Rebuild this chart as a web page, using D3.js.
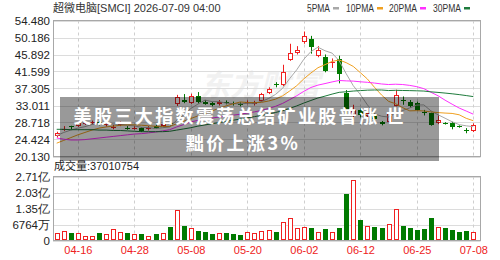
<!DOCTYPE html>
<html><head><meta charset="utf-8">
<script src="https://cdn.jsdelivr.net/npm/d3@7/dist/d3.min.js"></script>
<style>
html,body{margin:0;padding:0;background:#fff;}
svg{display:block;font-family:"Liberation Sans","Noto Sans CJK SC",sans-serif;}
</style></head>
<body><svg id="c" width="500" height="260"></svg>
<script>
const dates = ["04-13","04-14","04-15","04-16","04-17","04-20","04-21","04-22","04-23","04-24","04-27","04-28","04-29","04-30","05-01","05-04","05-05","05-06","05-07","05-08","05-11","05-12","05-13","05-14","05-15","05-18","05-19","05-20","05-21","05-22","05-26","05-27","05-28","05-29","06-01","06-02","06-03","06-04","06-05","06-08","06-09","06-10","06-11","06-12","06-15","06-16","06-17","06-18","06-22","06-23","06-24","06-25","06-26","06-29","06-30","07-01","07-02","07-06","07-07","07-08"];
const openP  = [25.2,27.1,27.8,27.9,28.4,28.5,28.8,28.0,27.5,28.0,27.4,27.3,27.3,27.2,27.9,27.9,28.6,33.4,34.3,33.7,35.4,34.0,33.6,33.3,34.0,33.7,33.5,33.6,33.3,34.2,36.1,38.4,38.1,44.6,46.2,49.0,49.8,45.5,45.2,43.8,44.8,36.1,30.5,31.8,30.3,30.6,28.9,28.9,33.0,34.3,33.9,33.6,31.4,31.0,28.5,28.6,28.6,27.8,26.8,26.5];
const highP  = [26.4,27.8,27.9,29.0,29.0,29.2,29.1,28.7,28.1,29.0,27.8,27.9,27.5,27.8,28.2,28.6,28.9,35.7,35.9,36.0,36.4,34.4,33.9,34.4,34.3,34.0,33.8,34.3,34.2,36.2,37.6,38.9,43.3,48.6,48.0,51.7,50.6,48.0,45.9,44.9,45.6,36.9,33.2,32.3,31.5,31.0,29.1,31.4,37.0,35.3,34.4,34.0,31.9,31.2,30.5,28.8,28.9,28.0,27.3,28.5];
const lowP   = [24.9,26.6,27.0,27.6,28.1,28.3,28.0,27.7,27.0,27.8,26.9,26.9,26.3,26.7,27.2,27.6,28.0,32.9,33.6,33.4,33.5,33.2,32.8,33.0,33.3,33.0,32.8,33.3,33.0,34.0,35.9,37.6,37.9,44.3,45.9,48.6,46.1,45.2,41.4,42.5,38.6,30.8,29.5,30.0,29.8,29.3,28.0,28.6,32.8,33.2,32.5,31.7,30.5,27.9,28.3,28.2,27.0,27.4,26.0,26.3];
const closeP = [26.1,27.2,27.7,28.7,28.6,28.9,28.3,28.3,27.6,28.6,27.3,27.4,26.6,27.3,27.4,28.3,28.4,35.1,34.0,35.5,33.8,33.5,33.1,34.0,33.6,33.3,33.1,33.8,33.9,35.9,37.2,38.3,41.5,46.2,47.0,50.5,47.9,47.1,41.7,44.0,40.9,31.5,32.0,30.5,31.0,29.6,28.4,31.0,35.6,34.2,32.8,32.0,31.2,28.1,29.3,28.4,27.5,27.6,26.6,28.2];
// volume in millions of shares
const volumeM = [30.7,41.8,30.7,30.7,20.9,20.9,30.7,26.5,48.8,37.7,30.7,26.5,26.5,20.9,26.5,30.7,58.6,128.3,62.8,51.6,41.8,37.7,26.5,33.5,30.7,26.5,22.3,37.7,30.7,41.8,44.6,37.7,76.7,96.2,51.6,55.8,53.0,34.9,48.8,34.9,53.0,195.2,253.8,86.5,61.4,58.6,54.4,69.7,132.5,62.8,54.4,46.0,48.8,93.4,55.8,54.4,46.0,34.9,41.8,37.01];
const ma5  = [25.4,26.2,26.8,27.3,27.66,28.22,28.44,28.56,28.34,28.34,28.02,27.84,27.5,27.44,27.2,27.4,27.6,29.3,30.64,32.26,33.36,34.38,33.98,33.98,33.6,33.5,33.42,33.56,33.54,34.0,34.78,35.82,37.36,39.82,42.04,44.7,46.62,47.74,46.84,46.24,44.32,41.04,38.02,35.78,33.18,30.92,30.3,30.1,31.12,31.76,32.4,33.12,33.16,31.66,30.68,29.8,28.9,28.18,27.88,27.66];
const ma10 = [23.5,24.2,24.9,25.6,26.2,26.8,27.3,27.6,27.8,28.0,28.12,28.14,28.03,27.89,27.77,27.71,27.72,28.4,29.04,29.73,30.38,30.99,31.64,32.31,32.93,33.43,33.9,33.77,33.76,33.8,34.14,34.62,35.46,36.68,38.02,39.74,41.22,42.55,43.33,44.14,44.51,43.83,42.88,41.31,39.71,37.62,35.67,34.06,33.45,32.47,31.66,31.71,31.63,31.39,31.22,31.1,31.01,30.67,29.77,29.17];
const ma20 = [24.8,24.5,24.3,24.3,24.4,24.6,24.8,25.0,25.2,25.4,25.6,25.8,25.9,26.1,26.3,26.6,26.9,27.6,28.2,28.87,29.25,29.57,29.84,30.1,30.35,30.57,30.81,31.09,31.4,31.77,32.26,32.81,33.55,34.5,35.48,36.59,37.56,38.16,38.55,38.97,39.33,39.23,39.17,39.0,38.87,38.68,38.45,38.31,38.39,38.31,38.09,37.77,37.26,36.35,35.47,34.36,33.34,32.37,31.61,30.82];
const ma30 = [27.0,27.0,26.9,26.9,26.9,26.9,26.8,26.8,26.7,26.7,26.6,26.5,26.4,26.4,26.4,26.4,26.5,26.8,27.1,27.4,27.8,28.1,28.4,28.7,29.0,29.3,29.6,29.9,30.2,30.51,30.88,31.25,31.71,32.29,32.91,33.63,34.28,34.91,35.38,35.89,36.34,36.48,36.66,36.77,36.89,36.93,36.93,36.79,36.85,36.8,36.77,36.72,36.66,36.46,36.32,36.15,35.97,35.76,35.52,35.26];
const priceTicks = [54.480,50.186,45.892,41.599,37.305,33.011,28.718,24.424,20.130];
const volTicks = [270560000,202920000,135280000,67640000,0];
const volTickLabels = ["2.71亿","2.03亿","1.35亿","6764万","0"];
const dateTicks = ["04-16","04-28","05-08","05-20","06-02","06-12","06-25","07-08"];
const maNames = ["5PMA","10PMA","20PMA","30PMA"];
const titleText = "超微电脑[SMCI] 2026-07-09 04:00";
const volText = "成交量:37010754";
const headline1 = "美股三大指数震荡总结矿业股普涨 世";
const headline2 = "黜价上涨3%";

const RED = "#f02020", GREEN = "#007a00";
const maColors = ["#a8a8a8","#f0a020","#ff30ff","#1e7b3c"];
const svg = d3.select("#c");
const L = 53, R = 480.5;
const mainTop = 20.5, mainBot = 156.5, volTop = 176.5, volBot = 240.5;

const x = d3.scalePoint().domain(dates).range([56.7, 473.3]);
const y = d3.scaleLinear().domain([20.130, 54.480]).range([mainBot, mainTop]);
const yv = d3.scaleLinear().domain([0, 270560000]).range([volBot, volTop]);

const data = dates.map((d,i)=>({d, o:openP[i], h:highP[i], l:lowP[i], c:closeP[i], v:volumeM[i]*1e6,
  up: closeP[i] > openP[i] || (closeP[i]===openP[i] && (i===0 || closeP[i] >= closeP[i-1]))}));

// title
svg.append("text").attr("x",53).attr("y",12).attr("font-size",11).attr("fill","#333").text(titleText);
// legend
const legendX = [307,346,389,433];
const legendW = [23,28,28,28];
maNames.forEach((n,k)=>{
  svg.append("text").attr("x",legendX[k]).attr("y",12).attr("font-size",10).attr("fill","#333")
    .attr("textLength",legendW[k]).attr("lengthAdjust","spacingAndGlyphs").text(n);
  svg.append("rect").attr("x",legendX[k]+legendW[k]+3).attr("y",7).attr("width",6).attr("height",2.5).attr("fill",maColors[k]);
});

// watermark
svg.append("text").attr("x",200).attr("y",96).attr("font-size",30).attr("font-weight","bold")
  .attr("font-style","italic").attr("fill","#000").attr("opacity",0.05).text("东方财富");

// horizontal grids
const g = svg.append("g");
g.selectAll(".hg").data(priceTicks).join("line")
  .attr("x1",L).attr("x2",R).attr("y1",d=>Math.round(y(d))+0.5).attr("y2",d=>Math.round(y(d))+0.5)
  .attr("stroke","#dcdcdc");
g.selectAll(".hv").data(volTicks).join("line").attr("class","hv")
  .attr("x1",L).attr("x2",R).attr("y1",d=>Math.round(yv(d))+0.5).attr("y2",d=>Math.round(yv(d))+0.5)
  .attr("stroke","#dcdcdc");
// vertical dashed
dateTicks.forEach(dt=>{
  const xx = Math.round(x(dt))+0.5;
  [[mainTop,mainBot],[volTop,volBot]].forEach(([a,b])=>{
    g.append("line").attr("x1",xx).attr("x2",xx).attr("y1",a).attr("y2",b)
     .attr("stroke","#cfcfcf").attr("stroke-dasharray","3,3");
  });
});
// frames
svg.append("rect").attr("x",L+0.5).attr("y",mainTop).attr("width",R-L-0.5).attr("height",mainBot-mainTop)
  .attr("fill","none").attr("stroke","#a8a8a8");
svg.append("rect").attr("x",L+0.5).attr("y",volTop).attr("width",R-L-0.5).attr("height",volBot-volTop)
  .attr("fill","none").attr("stroke","#a8a8a8");

// y axis labels
const yAxis = d3.axisLeft(y).tickValues(priceTicks).tickFormat(d=>d.toFixed(3)).tickSize(0).tickPadding(3);
const ya = svg.append("g").attr("transform",`translate(${L},0)`).call(yAxis);
ya.select(".domain").remove();
ya.selectAll("text").attr("font-size",11.5).attr("fill","#222").attr("font-family",'"Liberation Sans",sans-serif');
const vAxis = d3.axisLeft(yv).tickValues(volTicks).tickFormat((d,i)=>volTickLabels[i]).tickSize(0).tickPadding(3);
const va = svg.append("g").attr("transform",`translate(${L},0)`).call(vAxis);
va.select(".domain").remove();
va.selectAll("text").attr("font-size",11.5).attr("fill","#222");
// x axis labels
const xAxis = d3.axisBottom(x).tickValues(dateTicks).tickSize(0).tickPadding(6);
const xa = svg.append("g").attr("transform",`translate(0,${volBot})`).call(xAxis);
xa.select(".domain").remove();
xa.selectAll("text").attr("font-size",11).attr("fill","#ee2222");

// volume label
svg.append("text").attr("x",54).attr("y",170).attr("font-size",11).attr("fill","#222").text(volText);

// candles and volume bars
const cg = svg.append("g");
data.forEach(d=>{
  const cx = Math.round(x(d.d));
  const col = d.up ? RED : GREEN;
  cg.append("line").attr("x1",cx+0.5).attr("x2",cx+0.5).attr("y1",y(d.h)).attr("y2",y(d.l)).attr("stroke",col);
  const yt = Math.round(y(Math.max(d.o,d.c))), yb = Math.round(y(Math.min(d.o,d.c)));
  const hgt = Math.max(1, yb-yt);
  if(d.up){
    cg.append("rect").attr("x",cx-2+0.5).attr("y",yt+0.5).attr("width",4).attr("height",Math.max(hgt-1,0.001))
      .attr("fill","#fff").attr("stroke",col);
  } else {
    cg.append("rect").attr("x",cx-2).attr("y",yt).attr("width",5).attr("height",hgt).attr("fill",col);
  }
  const vt = Math.round(yv(d.v));
  if(d.up){
    cg.append("rect").attr("x",cx-2+0.5).attr("y",vt+0.5).attr("width",4).attr("height",Math.max(volBot-0.5-vt-1,0.5))
      .attr("fill","#fff").attr("stroke",col);
  } else {
    cg.append("rect").attr("x",cx-2).attr("y",vt).attr("width",5).attr("height",volBot-0.5-vt).attr("fill",col);
  }
});

// MA lines
const line = d3.line().x((v,i)=>x(dates[i])).y(v=>y(v));
[ma5,ma10,ma20,ma30].forEach((arr,k)=>{
  svg.append("path").attr("d",line(arr)).attr("fill","none").attr("stroke",maColors[k]).attr("stroke-width",1);
});

// overlay headline
svg.append("rect").attr("x",60).attr("y",97).attr("width",379).attr("height",64).attr("fill","rgba(0,0,0,0.4)");
const hl = svg.append("g").attr("font-family",'"Noto Sans CJK SC",sans-serif').attr("font-weight","bold")
  .attr("font-size",18).attr("letter-spacing","2.4px").attr("fill","#fff").attr("text-anchor","middle");
hl.append("text").attr("x",240).attr("y",123).text(headline1);
hl.append("text").attr("x",243).attr("y",150).text(headline2);
</script></body></html>
